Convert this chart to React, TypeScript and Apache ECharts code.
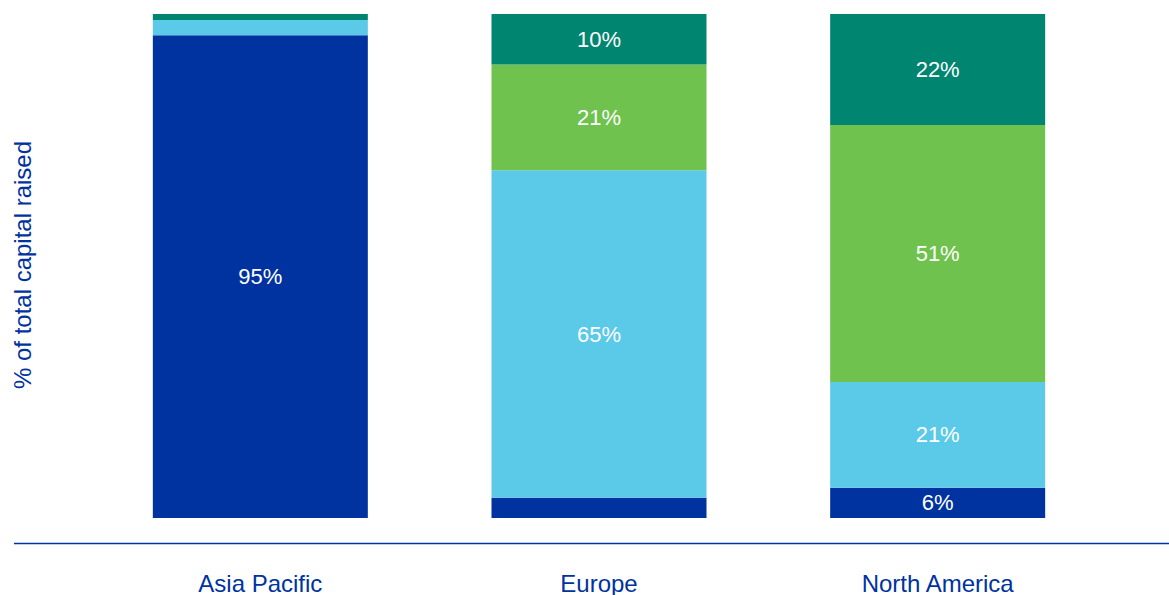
import React, { useEffect, useRef } from "react";
import * as echarts from "echarts";

const categories = ["Asia Pacific", "Europe", "North America"];
const seriesNames = ["Dark blue", "Light blue", "Green", "Teal"];
const darkBlue = [95.8, 4, 6];
const lightBlue = [3, 65, 21];
const green = [0, 21, 51];
const teal = [1.2, 10, 22];
const colors = ["#0033A0", "#5BC9E8", "#6FC24E", "#008571"];
const yAxisTitle = "% of total capital raised";

export default function App() {
  const ref = useRef<HTMLDivElement>(null);
  useEffect(() => {
    if (!ref.current) return;
    const chart = echarts.init(ref.current, null, { renderer: "svg" });
    const values = [darkBlue, lightBlue, green, teal];
    chart.setOption({
      animation: false,
      textStyle: { fontFamily: "Liberation Sans, Arial, sans-serif" },
      grid: { left: 91, right: 62, top: 14, bottom: 77 },
      xAxis: {
        type: "category",
        data: categories,
        axisLine: { show: false },
        axisTick: { show: false },
        axisLabel: { color: "#0033A0", fontSize: 24, margin: 53 },
      },
      yAxis: { type: "value", min: 0, max: 100, show: false },
      graphic: [
        {
          type: "line",
          shape: { x1: 14, y1: 543.5, x2: 1169, y2: 543.5 },
          style: { stroke: "#0033A0", lineWidth: 1.5 },
        },
        {
          type: "text",
          x: 22,
          y: 265,
          rotation: Math.PI / 2,
          style: {
            text: yAxisTitle,
            fill: "#0033A0",
            fontSize: 24,
            fontFamily: "Liberation Sans, Arial, sans-serif",
            align: "center",
            verticalAlign: "middle",
          },
        },
      ],
      series: seriesNames.map((name, i) => ({
        name,
        type: "bar",
        stack: "total",
        barWidth: 215,
        data: values[i],
        itemStyle: { color: colors[i] },
        label: {
          show: true,
          position: "inside",
          color: "#ffffff",
          fontSize: 22,
          formatter: (p: any) => (p.value >= 5 ? Math.floor(p.value) + "%" : ""),
        },
      })),
    });
    return () => chart.dispose();
  }, []);
  return (
    <div
      ref={ref}
      style={{ position: "absolute", left: 0, top: 0, width: 1169, height: 595 }}
    />
  );
}
